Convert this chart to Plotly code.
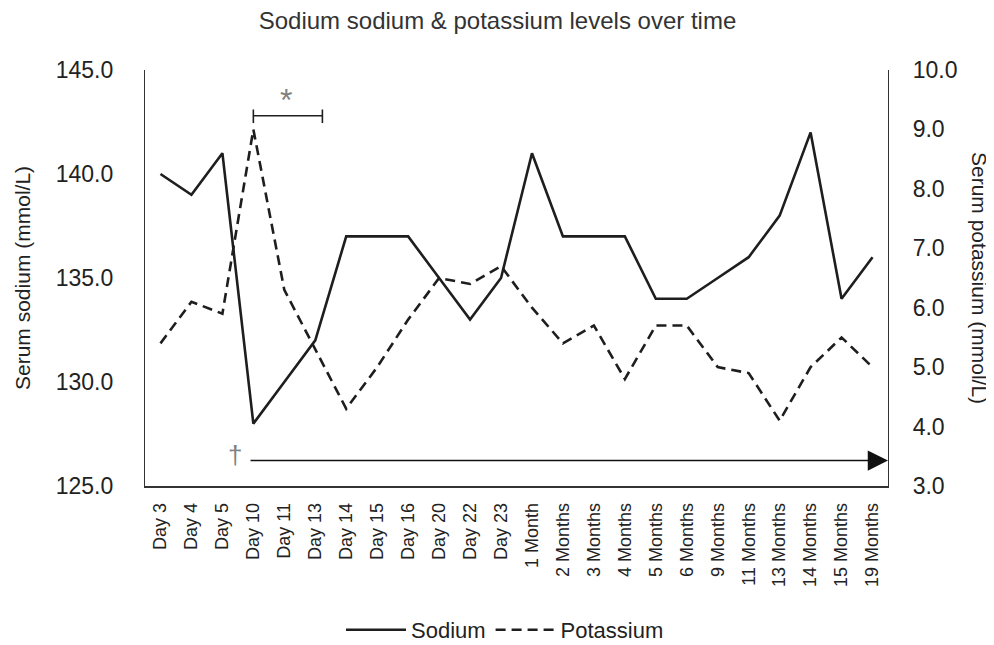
import plotly.graph_objects as go

categories = ["Day 3", "Day 4", "Day 5", "Day 10", "Day 11", "Day 13", "Day 14", "Day 15",
              "Day 16", "Day 20", "Day 22", "Day 23", "1 Month", "2 Months", "3 Months",
              "4 Months", "5 Months", "6 Months", "9 Months", "11 Months", "13 Months",
              "14 Months", "15 Months", "19 Months"]
sodium = [140, 139, 141, 128, 130, 132, 137, 137, 137, 135, 133, 135,
          141, 137, 137, 137, 134, 134, 135, 136, 138, 142, 134, 136]
potassium = [5.4, 6.1, 5.9, 9.0, 6.3, 5.3, 4.3, 5.0, 5.8, 6.5, 6.4, 6.7,
             6.0, 5.4, 5.7, 4.8, 5.7, 5.7, 5.0, 4.9, 4.1, 5.0, 5.5, 5.0]
sodium_ticks = [125, 130, 135, 140, 145]
potassium_ticks = [3, 4, 5, 6, 7, 8, 9, 10]

FONT = "Liberation Sans, Arial, sans-serif"
INK = "#1e1e1e"
TXT = "#222222"
n = len(categories)

# the page body adds an 8px offset, so the figure is sized/positioned accordingly
W, H = 986, 637
L, T, PW = 137, 62, 743

fig = go.Figure()
fig.add_trace(go.Scatter(x=categories, y=sodium, name="Sodium", mode="lines",
                         line=dict(color=INK, width=2.6), yaxis="y"))
fig.add_trace(go.Scatter(x=categories, y=potassium, name="Potassium", mode="lines",
                         line=dict(color=INK, width=2.6, dash="10px,6px"), yaxis="y2"))

fig.update_layout(
    width=W, height=H,
    paper_bgcolor="white", plot_bgcolor="white",
    margin=dict(l=L, r=W - L - PW, t=T, b=159, autoexpand=False),
    font=dict(family=FONT, color=TXT),
    title=dict(text="Sodium sodium & potassium levels over time", x=489.5 / W, xanchor="center",
               xref="container", y=1 - 13 / H, yanchor="middle", yref="container",
               font=dict(size=24, color="#333333")),
    xaxis=dict(type="category", range=[-0.5, n - 0.5], tickangle=-90,
               tickfont=dict(size=18, color=TXT), ticklabelstandoff=8,
               showline=True, linecolor="#333333", linewidth=1.5, mirror=False,
               showgrid=False, ticks="", zeroline=False, automargin=False),
    yaxis=dict(range=[125, 145], tickvals=sodium_ticks, tickformat=".1f",
               tickfont=dict(size=23, color=TXT), ticklabelstandoff=26, showline=True,
               linecolor="#333333", linewidth=1.2, showgrid=False, ticks="",
               zeroline=False, automargin=False),
    yaxis2=dict(range=[3, 10], tickvals=potassium_ticks, tickformat=".1f", overlaying="y",
                side="right", tickfont=dict(size=23, color=TXT), ticklabelstandoff=19,
                showline=True, linecolor="#333333", linewidth=1.2, showgrid=False, ticks="",
                zeroline=False, automargin=False),
    legend=dict(orientation="h", x=497 / W, xref="container", xanchor="center",
                y=1 - 622 / H, yref="container", yanchor="middle",
                font=dict(size=22, color=TXT), itemwidth=60, tracegroupgap=40),
    showlegend=True,
)

# axis titles
fig.add_annotation(text="Serum sodium (mmol/L)", xref="paper", yref="paper",
                   x=(14 - L) / PW, y=0.5, xanchor="center", yanchor="middle",
                   textangle=-90, showarrow=False, font=dict(size=21, color=TXT))
fig.add_annotation(text="Serum potassium (mmol/L)", xref="paper", yref="paper",
                   x=(972 - L) / PW, y=0.5, xanchor="center", yanchor="middle",
                   textangle=90, showarrow=False, font=dict(size=21, color=TXT))

# significance bracket and asterisk
fig.add_shape(type="line", xref="x", yref="y", x0=3, x1=5.23, y0=142.8, y1=142.8,
              line=dict(color=INK, width=1.6))
fig.add_shape(type="line", xref="x", yref="y", x0=3, x1=3, y0=142.45, y1=143.1,
              line=dict(color=INK, width=1.6))
fig.add_shape(type="line", xref="x", yref="y", x0=5.23, x1=5.23, y0=142.45, y1=143.1,
              line=dict(color=INK, width=1.6))
fig.add_annotation(text="*", xref="x", yref="y", x=4.05, y=143.55, showarrow=False,
                   font=dict(size=32, color="#808080"))

# dagger and arrow
fig.add_annotation(text="†", xref="x", yref="y", x=2.41, y=126.5, showarrow=False,
                   font=dict(size=26, color="#808080"))
fig.add_annotation(text="", xref="x", yref="y", x=n - 0.5, y=126.22,
                   axref="x", ayref="y", ax=2.86, ay=126.22, showarrow=True,
                   arrowhead=2, arrowsize=2.7, arrowwidth=1.5, arrowcolor="#111111",
                   standoff=0)

fig.write_html("out.html")
